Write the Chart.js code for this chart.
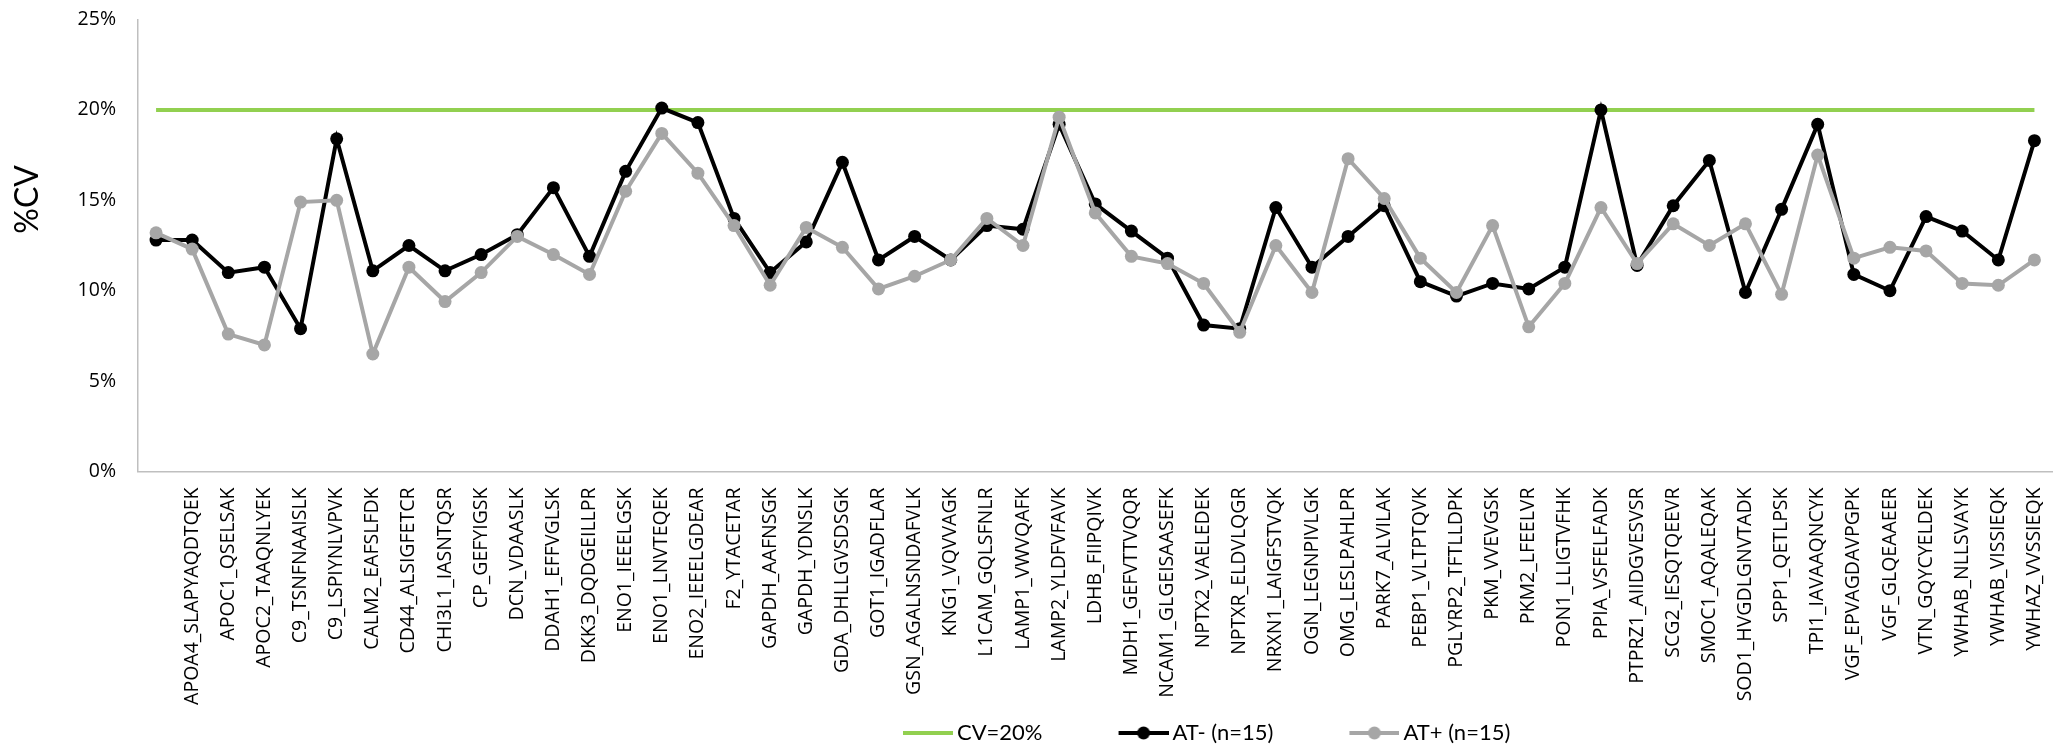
<!DOCTYPE html>
<html>
<head>
<meta charset="utf-8">
<script src="https://cdn.jsdelivr.net/npm/chart.js@4.4.1/dist/chart.umd.min.js"></script>
<style>
  html, body { margin: 0; padding: 0; background: #ffffff; }
  #wrap { width: 2059px; height: 748px; }
</style>
</head>
<body>
<div id="wrap"><canvas id="cvChart" width="2059" height="748"></canvas></div>
<script>
// Peptide categories (the first position carries no label)
const peptides = [
  '', 'APOA4_SLAPYAQDTQEK', 'APOC1_QSELSAK', 'APOC2_TAAQNLYEK', 'C9_TSNFNAAISLK',
  'C9_LSPIYNLVPVK', 'CALM2_EAFSLFDK', 'CD44_ALSIGFETCR', 'CHI3L1_IASNTQSR', 'CP_GEFYIGSK',
  'DCN_VDAASLK', 'DDAH1_EFFVGLSK', 'DKK3_DQDGEILLPR', 'ENO1_IEEELGSK', 'ENO1_LNVTEQEK',
  'ENO2_IEEELGDEAR', 'F2_YTACETAR', 'GAPDH_AAFNSGK', 'GAPDH_YDNSLK', 'GDA_DHLLGVSDSGK',
  'GOT1_IGADFLAR', 'GSN_AGALNSNDAFVLK', 'KNG1_VQVVAGK', 'L1CAM_GQLSFNLR', 'LAMP1_VWVQAFK',
  'LAMP2_YLDFVFAVK', 'LDHB_FIIPQIVK', 'MDH1_GEFVTTVQQR', 'NCAM1_GLGEISAASEFK', 'NPTX2_VAELEDEK',
  'NPTXR_ELDVLQGR', 'NRXN1_LAIGFSTVQK', 'OGN_LEGNPIVLGK', 'OMG_LESLPAHLPR', 'PARK7_ALVILAK',
  'PEBP1_VLTPTQVK', 'PGLYRP2_TFTLLDPK', 'PKM_VVEVGSK', 'PKM2_LFEELVR', 'PON1_LLIGTVFHK',
  'PPIA_VSFELFADK', 'PTPRZ1_AIIDGVESVSR', 'SCG2_IESQTQEEVR', 'SMOC1_AQALEQAK', 'SOD1_HVGDLGNVTADK',
  'SPP1_QETLPSK', 'TPI1_IAVAAQNCYK', 'VGF_EPVAGDAVPGPK', 'VGF_GLQEAAEER', 'VTN_GQYCYELDEK',
  'YWHAB_NLLSVAYK', 'YWHAB_VISSIEQK', 'YWHAZ_VVSSIEQK'
];

// %CV, AT- group (n=15)
const cvAtNeg = [
  12.8, 12.8, 11.0, 11.3, 7.9, 18.4, 11.1, 12.5, 11.1, 12.0,
  13.1, 15.7, 11.9, 16.6, 20.1, 19.3, 14.0, 11.0, 12.7, 17.1,
  11.7, 13.0, 11.7, 13.6, 13.4, 19.2, 14.8, 13.3, 11.8, 8.1,
  7.9, 14.6, 11.3, 13.0, 14.7, 10.5, 9.7, 10.4, 10.1, 11.3,
  20.0, 11.4, 14.7, 17.2, 9.9, 14.5, 19.2, 10.9, 10.0, 14.1,
  13.3, 11.7, 18.3
];

// %CV, AT+ group (n=15)
const cvAtPos = [
  13.2, 12.3, 7.6, 7.0, 14.9, 15.0, 6.5, 11.3, 9.4, 11.0,
  13.0, 12.0, 10.9, 15.5, 18.7, 16.5, 13.6, 10.3, 13.5, 12.4,
  10.1, 10.8, 11.7, 14.0, 12.5, 19.6, 14.3, 11.9, 11.5, 10.4,
  7.7, 12.5, 9.9, 17.3, 15.1, 11.8, 9.9, 13.6, 8.0, 10.4,
  14.6, 11.5, 13.7, 12.5, 13.7, 9.8, 17.5, 11.8, 12.4, 12.2,
  10.4, 10.3, 11.7
];

// Acceptance threshold, drawn as a flat reference line
const cvThreshold = 20;
const cvLimit = peptides.map(() => cvThreshold);

// Y-axis tick values (percent)
const yTicks = [0, 5, 10, 15, 20, 25];

const seriesNames = ['CV=20%', 'AT- (n=15)', 'AT+ (n=15)'];
const GREEN = '#92D050', BLACK = '#000000', GRAY = '#A6A6A6';

// Legend symbol: short line segment, optionally with a marker in the middle
function legendIcon(color, withDot) {
  const c = document.createElement('canvas');
  c.width = 123; c.height = 16;
  const g = c.getContext('2d');
  g.strokeStyle = color;
  g.lineWidth = 4;
  g.beginPath(); g.moveTo(73, 8); g.lineTo(123, 8); g.stroke();
  if (withDot) {
    g.fillStyle = color;
    g.beginPath(); g.arc(98, 8, 6.5, 0, Math.PI * 2); g.fill();
  }
  return c;
}
const legendIcons = [legendIcon(GREEN, false), legendIcon(BLACK, true), legendIcon(GRAY, true)];

// Places the legend row and draws the rotated value-axis caption
const placement = {
  id: 'placement',
  afterLayout(chart) {
    const lg = chart.legend;
    lg.left = 827;
    lg.top = 712;
  },
  afterDraw(chart) {
    const { ctx, chartArea } = chart;
    ctx.save();
    ctx.translate(28, chartArea.top + (chartArea.bottom - chartArea.top) * 0.398);
    ctx.rotate(-Math.PI / 2);
    ctx.font = '32px Lato';
    ctx.fillStyle = '#000000';
    ctx.textAlign = 'center';
    ctx.textBaseline = 'middle';
    ctx.fillText('%CV', 0, 0);
    ctx.restore();
  }
};

new Chart(document.getElementById('cvChart'), {
  type: 'line',
  data: {
    labels: peptides,
    datasets: [
      {
        label: seriesNames[0], data: cvLimit, order: 3,
        borderColor: GREEN, backgroundColor: GREEN, borderWidth: 4,
        pointRadius: 0, pointHoverRadius: 0, tension: 0, fill: false
      },
      {
        label: seriesNames[1], data: cvAtNeg, order: 2,
        borderColor: BLACK, backgroundColor: BLACK, borderWidth: 4,
        pointRadius: 6.5, pointBorderWidth: 0, pointBackgroundColor: BLACK,
        tension: 0, fill: false
      },
      {
        label: seriesNames[2], data: cvAtPos, order: 1,
        borderColor: GRAY, backgroundColor: GRAY, borderWidth: 4,
        pointRadius: 6.5, pointBorderWidth: 0, pointBackgroundColor: GRAY,
        tension: 0, fill: false
      }
    ]
  },
  options: {
    responsive: false,
    animation: false,
    devicePixelRatio: 1,
    layout: { padding: { top: 19.5, right: 1, left: 0, bottom: 0 } },
    plugins: {
      tooltip: { enabled: false },
      title: { display: false },
      legend: {
        position: 'bottom',
        align: 'start',
        labels: {
          usePointStyle: true,
          pointStyleWidth: 109,
          padding: 10,
          color: '#000000',
          font: { family: 'Lato', size: 22 },
          generateLabels: () => seriesNames.map((name, i) => ({
            text: name,
            pointStyle: legendIcons[i],
            fillStyle: 'rgba(0,0,0,0)',
            strokeStyle: 'rgba(0,0,0,0)',
            lineWidth: 0,
            hidden: false,
            datasetIndex: i
          }))
        }
      }
    },
    scales: {
      x: {
        type: 'category',
        offset: true,
        grid: { display: false, drawTicks: false },
        border: { display: true, color: '#BFBFBF', width: 1.5 },
        ticks: {
          autoSkip: false,
          minRotation: 90,
          maxRotation: 90,
          padding: 16,
          color: '#000000',
          font: { family: 'Open Sans', size: 19.5 }
        },
        afterFit: (s) => { s.height = 234.5; s.paddingLeft = 0; s.paddingRight = 0; }
      },
      y: {
        min: 0,
        max: 25,
        grid: { display: false, drawTicks: false },
        border: { display: true, color: '#BFBFBF', width: 1.5 },
        ticks: {
          stepSize: 5,
          padding: 22,
          color: '#000000',
          font: { family: 'Open Sans', size: 19.5 },
          callback: (v) => v + '%'
        },
        afterBuildTicks: (s) => { s.ticks = yTicks.map((v) => ({ value: v })); },
        afterFit: (s) => { s.width = 138; s.paddingTop = 0; s.paddingBottom = 0; }
      }
    }
  },
  plugins: [placement]
});
</script>
</body>
</html>
